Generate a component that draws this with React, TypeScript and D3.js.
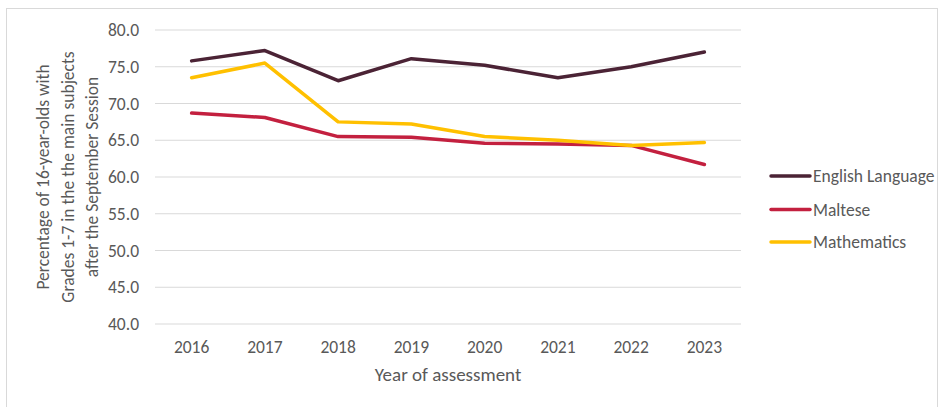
import React from "react";
import * as d3 from "d3";

const years = ["2016", "2017", "2018", "2019", "2020", "2021", "2022", "2023"];
const english = [75.8, 77.2, 73.1, 76.1, 75.2, 73.5, 75.0, 77.0];
const maltese = [68.7, 68.1, 65.5, 65.4, 64.6, 64.5, 64.3, 61.7];
const maths = [73.5, 75.5, 67.5, 67.2, 65.5, 65.0, 64.3, 64.7];
const seriesNames = ["English Language", "Maltese", "Mathematics"];
const seriesColors = ["#4b2335", "#c3203f", "#ffc000"];
const yTicks = [40, 45, 50, 55, 60, 65, 70, 75, 80];
const yLabelLines = [
  "Percentage of 16-year-olds with",
  "Grades 1-7 in the the main subjects",
  "after the September Session",
];
const xTitle = "Year of assessment";

export default function App() {
  const W = 944, H = 407;
  const left = 155, right = 741, top = 30, bottom = 324;
  const x = d3.scaleBand<string>().domain(years).range([left, right]);
  const y = d3.scaleLinear().domain([40, 80]).range([bottom, top]);
  const data = [english, maltese, maths];
  const line = d3
    .line<number>()
    .x((_, i) => (x(years[i]) as number) + x.bandwidth() / 2)
    .y((d) => y(d));
  const font = "Carlito, Calibri, 'Open Sans', sans-serif";
  const txt = "#595959";
  return (
    <svg width={W} height={H} style={{ position: "absolute", left: 0, top: 0 }} fontFamily={font}>
      <rect x={0} y={0} width={W} height={H} fill="#fff" />
      <rect x={6.5} y={8.5} width={931} height={410} fill="none" stroke="#d9d9d9" />
      {yTicks.map((t) => (
        <g key={t}>
          <line x1={left} x2={right} y1={y(t)} y2={y(t)} stroke="#d9d9d9" strokeWidth={1} />
          <text x={139} y={y(t)} dy="0.35em" textAnchor="end" fontSize={17.5} fill={txt}>
            {t.toFixed(1)}
          </text>
        </g>
      ))}
      {years.map((yr) => (
        <text key={yr} x={(x(yr) as number) + x.bandwidth() / 2} y={353} textAnchor="middle" fontSize={17.5} fill={txt}>
          {yr}
        </text>
      ))}
      <text x={448} y={381} textAnchor="middle" fontSize={19} fill={txt}>
        {xTitle}
      </text>
      {yLabelLines.map((l, i) => (
        <text
          key={i}
          transform={`translate(${49 + i * 24.5},${(top + bottom) / 2}) rotate(-90)`}
          textAnchor="middle"
          fontSize={17.5}
          fill={txt}
        >
          {l}
        </text>
      ))}
      {data.map((d, i) => (
        <path key={i} d={line(d) as string} fill="none" stroke={seriesColors[i]} strokeWidth={3.5} strokeLinejoin="round" strokeLinecap="round" />
      ))}
      {seriesNames.map((n, i) => {
        const ly = [176, 209.5, 242][i];
        return (
          <g key={n}>
            <line x1={771} x2={810} y1={ly} y2={ly} stroke={seriesColors[i]} strokeWidth={3.5} strokeLinecap="round" />
            <text x={813} y={ly} dy="0.35em" fontSize={17.5} fill={txt}>
              {n}
            </text>
          </g>
        );
      })}
    </svg>
  );
}
